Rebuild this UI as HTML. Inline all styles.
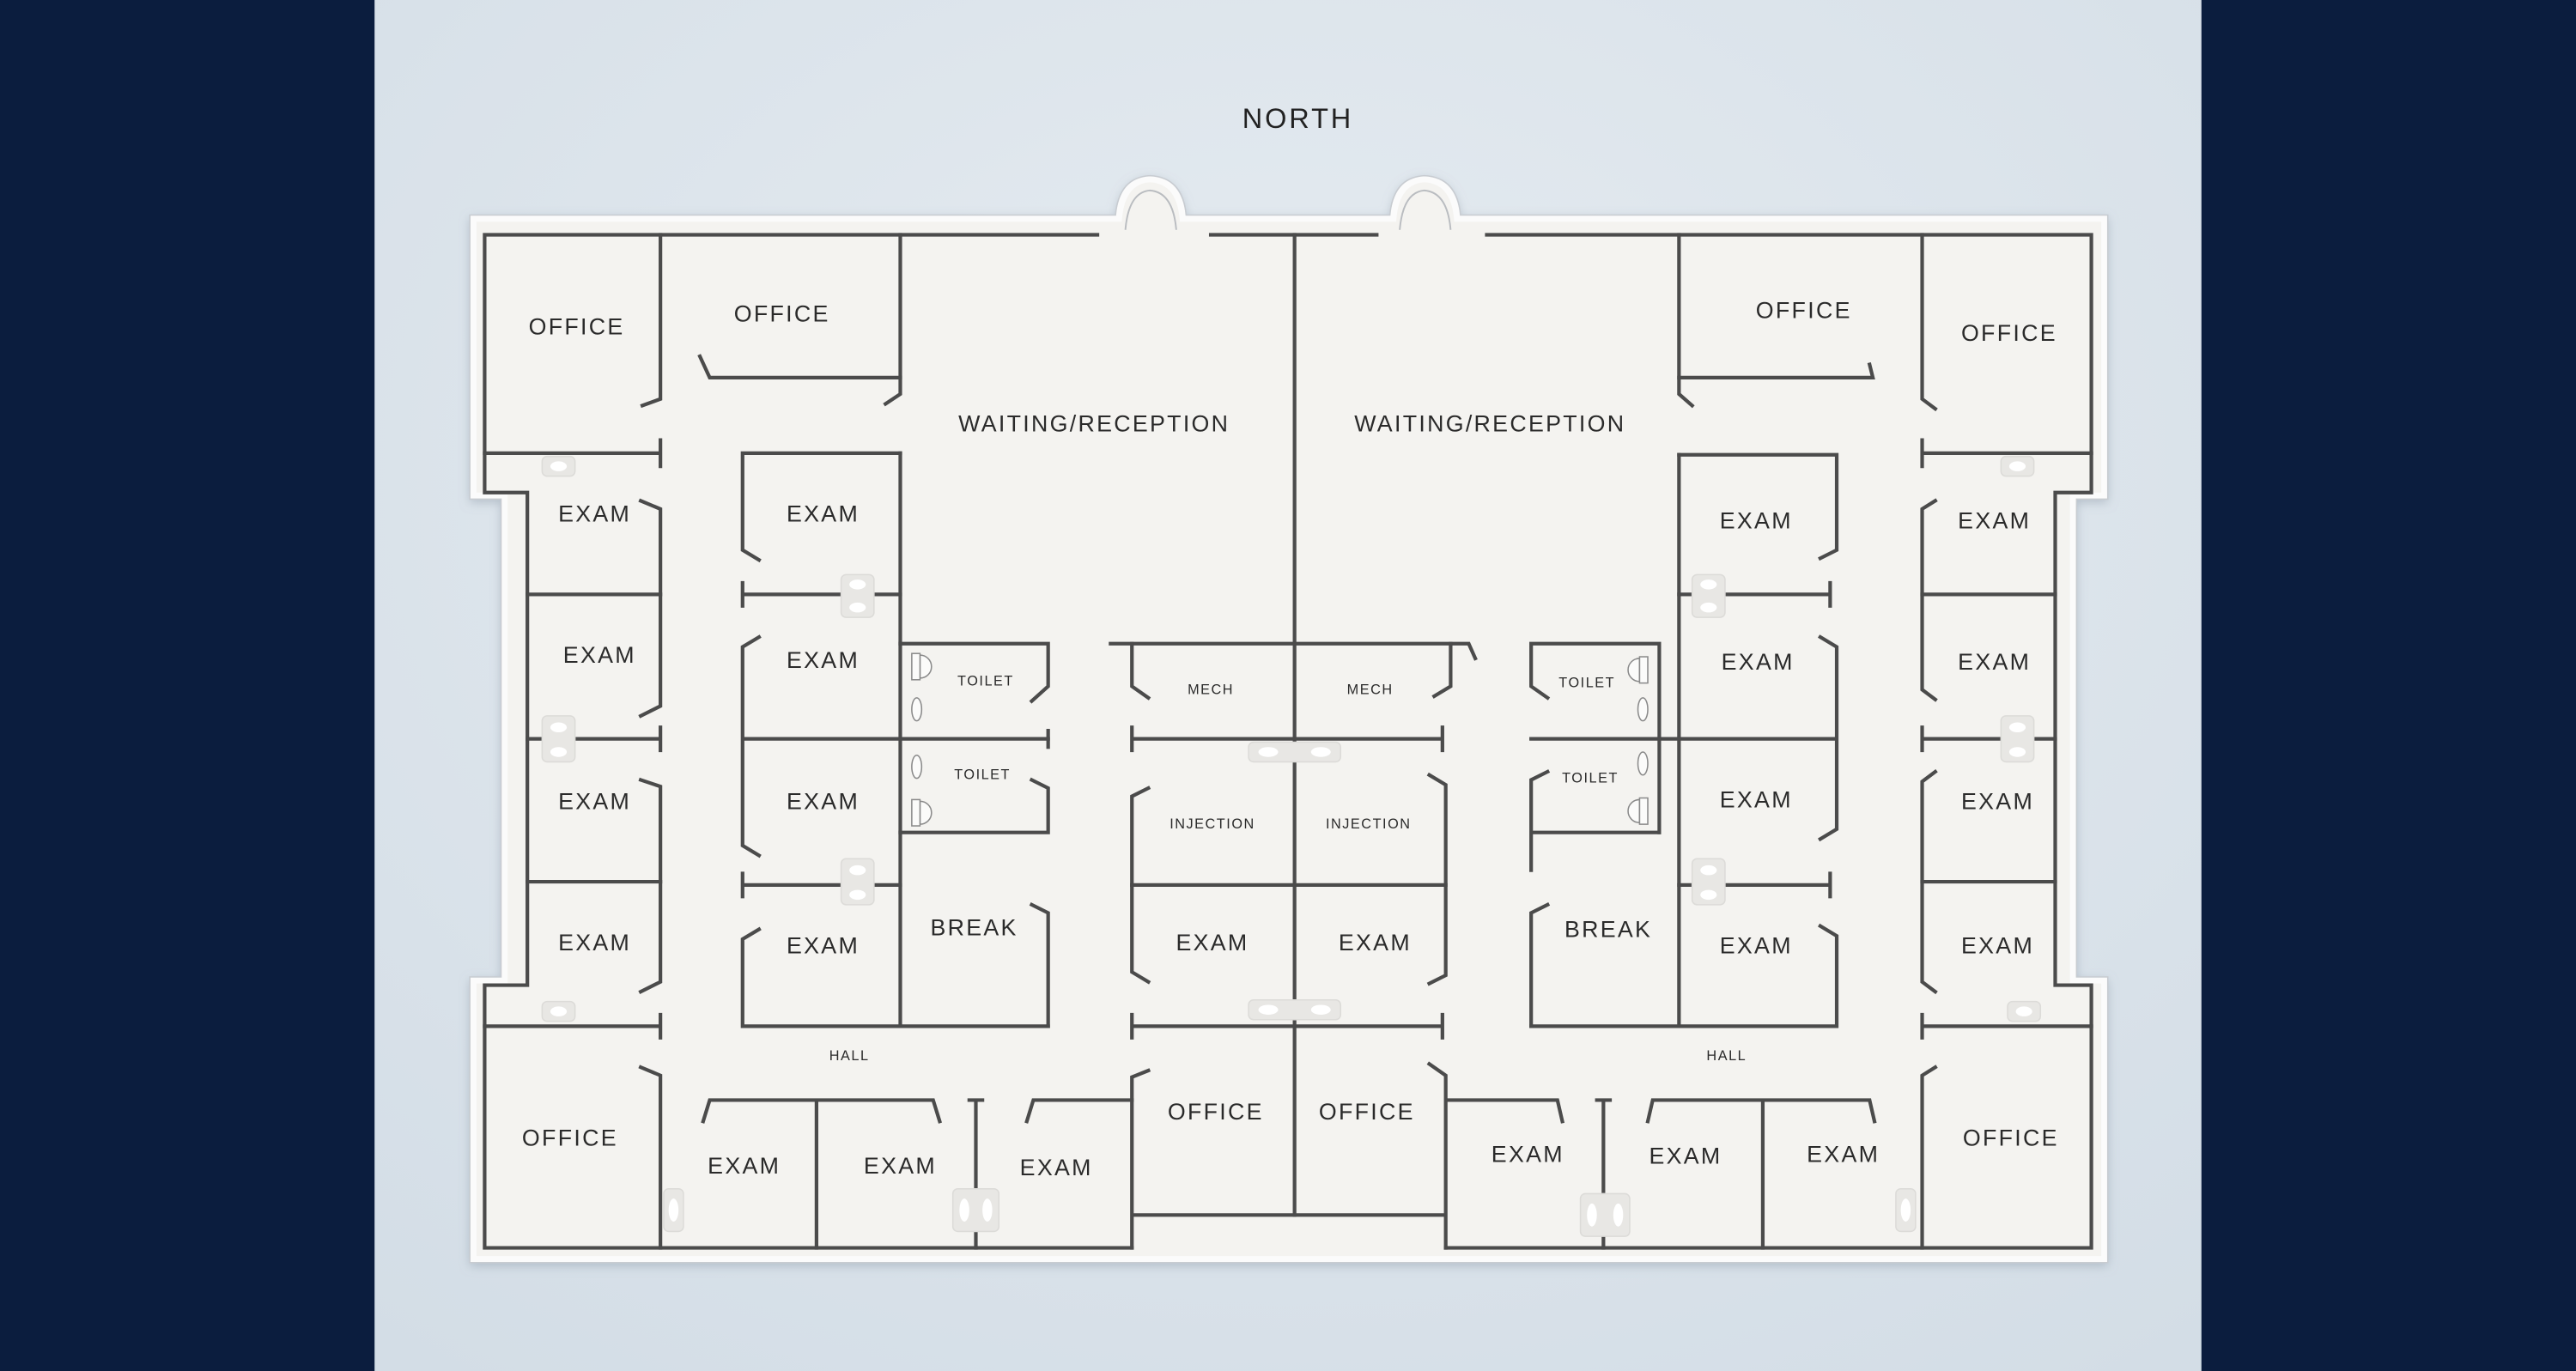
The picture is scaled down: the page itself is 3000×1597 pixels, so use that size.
<!DOCTYPE html>
<html><head><meta charset="utf-8"><style>
html,body{margin:0;padding:0;background:#0b1d3e;}
svg{display:block;}
</style></head><body>
<svg width="3000" height="1597" viewBox="0 0 1568 835" preserveAspectRatio="none" xmlns="http://www.w3.org/2000/svg">
<defs>
<radialGradient id="bg" cx="0.5" cy="0.35" r="0.8">
<stop offset="0" stop-color="#e6ecf1"/><stop offset="1" stop-color="#d3dde6"/>
</radialGradient>
<filter id="sh" x="-5%" y="-5%" width="110%" height="110%"><feDropShadow dx="0" dy="2" stdDeviation="3" flood-color="#8a97a6" flood-opacity="0.5"/></filter>
</defs>
<rect width="1568" height="835" fill="#0b1d3e"/>
<rect x="228" y="0" width="1112" height="835" fill="url(#bg)"/>
<text x="790" y="78" text-anchor="middle" font-family="Liberation Sans, sans-serif" font-size="17" letter-spacing="1.5" fill="#222">NORTH</text>

<path filter="url(#sh)" d="M288,133 H681 Q683,110 700,109 Q718,110 720,133 H848 Q850,110 867,109 Q885,110 887,133 H1281 V302 H1262 V597 H1281 V767 H288 V597 H307 V302 H288 Z" fill="#f4f3f0" stroke="#fbfbfb" stroke-width="4"/>
<path d="M286,131 H679 Q681,108 700,107 Q720,108 722,131 H846 Q848,108 867,107 Q887,108 889,131 H1283 V304 H1264 V595 H1283 V769 H286 V595 H305 V304 H286 Z" fill="none" stroke="#c8ccd1" stroke-width="0.8"/>
<path d="M685,140 Q687,117 700,116 Q714,117 716,140 M852,140 Q854,117 867,116 Q881,117 883,140" fill="none" stroke="#b9bcc0" stroke-width="1"/>

<g stroke="#4b4b4b" stroke-width="2.2" fill="none" stroke-linecap="square">
<path d="M668,143 H295 V300 H321 V600 H295 V760 H689"/>
<path d="M737,143 H838"/>
<path d="M905,143 H1273 V300 H1251 V600 H1273 V760 H880"/>
<path d="M402,143 V243 L391,247"/>
<path d="M548,143 V240 L539,246"/>
<path d="M426,217 L432,230 H548"/>
<path d="M295,276 H402 M402,268 V284"/>
<path d="M321,362 H402 M321,450 H402 M402,443 V457 M321,537 H402 M295,625 H402 M402,618 V632"/>
<path d="M390,305 L402,310 V362 V430 L390,436"/>
<path d="M390,475 L402,479 V537 V598 L390,604"/>
<path d="M548,276 H452 V335 L462,341"/>
<path d="M452,362 H548 M452,355 V369"/>
<path d="M548,276 V625"/>
<path d="M462,388 L452,394 V450 H638 M452,450 V515 L462,521"/>
<path d="M452,539 H548 M452,532 V546"/>
<path d="M462,566 L452,572 V625 H638"/>
<path d="M548,392 H638 V418 L628,427"/>
<path d="M628,475 L638,480 V507 H548"/>
<path d="M628,551 L638,556 V625"/>
<path d="M638,445 V455"/>
<path d="M788,143 V740"/>
<path d="M676,392 H894 L898,401"/>
<path d="M689,392 V418 L699,425 M883,392 V418 L873,424"/>
<path d="M689,450 H878 M689,443 V457 M878,443 V457"/>
<path d="M699,480 L689,485 V539 V592 L699,598"/>
<path d="M689,539 H880"/>
<path d="M870,472 L880,478 V539 V594 L870,599"/>
<path d="M689,625 H878 M689,618 V632 M878,618 V632"/>
<path d="M699,652 L689,656 V760 M870,648 L880,655 V760 M689,740 H880"/>
<path d="M390,650 L402,655 V760"/>
<path d="M428,683 L432,670 H568 L572,683 M497,670 V760"/>
<path d="M594,670 V760 M590,670 H598"/>
<path d="M625,683 L629,670 H689"/>
<path d="M1022,143 V240 L1030,247"/>
<path d="M1022,230 H1140 L1138,222"/>
<path d="M1170,143 V243 L1178,249"/>
<path d="M1170,276 H1273 M1170,268 V284"/>
<path d="M1170,362 H1251 M1170,450 H1251 M1170,443 V457 M1170,537 H1251 M1170,625 H1273 M1170,618 V632"/>
<path d="M1178,305 L1170,310 V362 V420 L1178,426"/>
<path d="M1178,470 L1170,476 V537 V598 L1178,604"/>
<path d="M1022,277 H1118 V335 L1108,340"/>
<path d="M1022,362 H1114 M1114,355 V369"/>
<path d="M1022,277 V625"/>
<path d="M1108,388 L1118,394 V450 H932 M1118,450 V505 L1108,511"/>
<path d="M1022,539 H1114 M1114,532 V546"/>
<path d="M1108,564 L1118,570 V625 H932"/>
<path d="M932,392 H1010 V507 M932,392 V418 L942,425"/>
<path d="M942,470 L932,475 V530 M932,507 H1010"/>
<path d="M942,551 L932,556 V625"/>
<path d="M882,670 H948 L951,683"/>
<path d="M976,670 V760 M972,670 H980"/>
<path d="M1003,683 L1006,670 H1138 L1141,683 M1073,670 V760"/>
<path d="M1178,650 L1170,655 V760"/>
</g>

<g fill="#e8e7e4" stroke="#dcdbd8" stroke-width="0.8">
<rect x="330" y="278" width="20" height="12" rx="3"/>
<rect x="512" y="350" width="20" height="26" rx="3"/>
<rect x="330" y="436" width="20" height="28" rx="3"/>
<rect x="512" y="523" width="20" height="28" rx="3"/>
<rect x="330" y="610" width="20" height="12" rx="3"/>
<rect x="760" y="452" width="56" height="12" rx="3"/>
<rect x="760" y="609" width="56" height="12" rx="3"/>
<rect x="1030" y="350" width="20" height="26" rx="3"/>
<rect x="1030" y="523" width="20" height="28" rx="3"/>
<rect x="1218" y="278" width="20" height="12" rx="3"/>
<rect x="1218" y="436" width="20" height="28" rx="3"/>
<rect x="1222" y="610" width="20" height="12" rx="3"/>
<rect x="404" y="724" width="12" height="26" rx="3"/>
<rect x="580" y="724" width="28" height="26" rx="3"/>
<rect x="962" y="727" width="30" height="26" rx="3"/>
<rect x="1154" y="724" width="12" height="26" rx="3"/>
</g>
<g fill="#ffffff">
<ellipse cx="340" cy="284" rx="5" ry="3"/>
<ellipse cx="522" cy="356" rx="5" ry="3"/><ellipse cx="522" cy="370" rx="5" ry="3"/>
<ellipse cx="340" cy="443" rx="5" ry="3"/><ellipse cx="340" cy="458" rx="5" ry="3"/>
<ellipse cx="522" cy="530" rx="5" ry="3"/><ellipse cx="522" cy="545" rx="5" ry="3"/>
<ellipse cx="340" cy="616" rx="5" ry="3"/>
<ellipse cx="772" cy="458" rx="6" ry="3"/><ellipse cx="804" cy="458" rx="6" ry="3"/>
<ellipse cx="772" cy="615" rx="6" ry="3"/><ellipse cx="804" cy="615" rx="6" ry="3"/>
<ellipse cx="1040" cy="356" rx="5" ry="3"/><ellipse cx="1040" cy="370" rx="5" ry="3"/>
<ellipse cx="1040" cy="530" rx="5" ry="3"/><ellipse cx="1040" cy="545" rx="5" ry="3"/>
<ellipse cx="1228" cy="284" rx="5" ry="3"/>
<ellipse cx="1228" cy="443" rx="5" ry="3"/><ellipse cx="1228" cy="458" rx="5" ry="3"/>
<ellipse cx="1232" cy="616" rx="5" ry="3"/>
<ellipse cx="410" cy="737" rx="3" ry="7"/>
<ellipse cx="587" cy="737" rx="3" ry="7"/><ellipse cx="601" cy="737" rx="3" ry="7"/>
<ellipse cx="969" cy="740" rx="3" ry="7"/><ellipse cx="985" cy="740" rx="3" ry="7"/>
<ellipse cx="1160" cy="737" rx="3" ry="7"/>
</g>
<g fill="#fbfbfa" stroke="#8a8a8a" stroke-width="0.8">
<path d="M560,399 a7,7 0 0 1 0,14 Z"/><rect x="555" y="398" width="5" height="16"/>
<ellipse cx="558" cy="432" rx="3" ry="7"/>
<ellipse cx="558" cy="467" rx="3" ry="7"/>
<path d="M560,488 a7,7 0 0 1 0,14 Z"/><rect x="555" y="487" width="5" height="16"/>
<path d="M998,401 a7,7 0 0 0 0,14 Z"/><rect x="998" y="400" width="5" height="16"/>
<ellipse cx="1000" cy="432" rx="3" ry="7"/>
<ellipse cx="1000" cy="465" rx="3" ry="7"/>
<path d="M998,487 a7,7 0 0 0 0,14 Z"/><rect x="998" y="486" width="5" height="16"/>
</g>

<g font-family="Liberation Sans, sans-serif" fill="#2a2a2a" text-anchor="middle" dominant-baseline="central">
<g font-size="14" letter-spacing="1.2">
<text x="351" y="199">OFFICE</text><text x="476" y="191">OFFICE</text>
<text x="666" y="258">WAITING/RECEPTION</text><text x="907" y="258">WAITING/RECEPTION</text>
<text x="1098" y="189">OFFICE</text><text x="1223" y="203">OFFICE</text>
<text x="362" y="313">EXAM</text><text x="501" y="313">EXAM</text><text x="1069" y="317">EXAM</text><text x="1214" y="317">EXAM</text>
<text x="365" y="399">EXAM</text><text x="501" y="402">EXAM</text><text x="1070" y="403">EXAM</text><text x="1214" y="403">EXAM</text>
<text x="362" y="488">EXAM</text><text x="501" y="488">EXAM</text><text x="1069" y="487">EXAM</text><text x="1216" y="488">EXAM</text>
<text x="362" y="574">EXAM</text><text x="501" y="576">EXAM</text><text x="593" y="565">BREAK</text>
<text x="738" y="574">EXAM</text><text x="837" y="574">EXAM</text><text x="979" y="566">BREAK</text>
<text x="1069" y="576">EXAM</text><text x="1216" y="576">EXAM</text>
<text x="347" y="693">OFFICE</text><text x="453" y="710">EXAM</text><text x="548" y="710">EXAM</text><text x="643" y="711">EXAM</text>
<text x="740" y="677">OFFICE</text><text x="832" y="677">OFFICE</text>
<text x="930" y="703">EXAM</text><text x="1026" y="704">EXAM</text><text x="1122" y="703">EXAM</text><text x="1224" y="693">OFFICE</text>
</g>
<g font-size="8.5" letter-spacing="0.8">
<text x="600" y="415">TOILET</text><text x="737" y="420">MECH</text><text x="834" y="420">MECH</text><text x="966" y="416">TOILET</text>
<text x="598" y="472">TOILET</text><text x="738" y="502">INJECTION</text><text x="833" y="502">INJECTION</text><text x="968" y="474">TOILET</text>
<text x="517" y="643">HALL</text><text x="1051" y="643">HALL</text>
</g>
</g>
</svg>
</body></html>
